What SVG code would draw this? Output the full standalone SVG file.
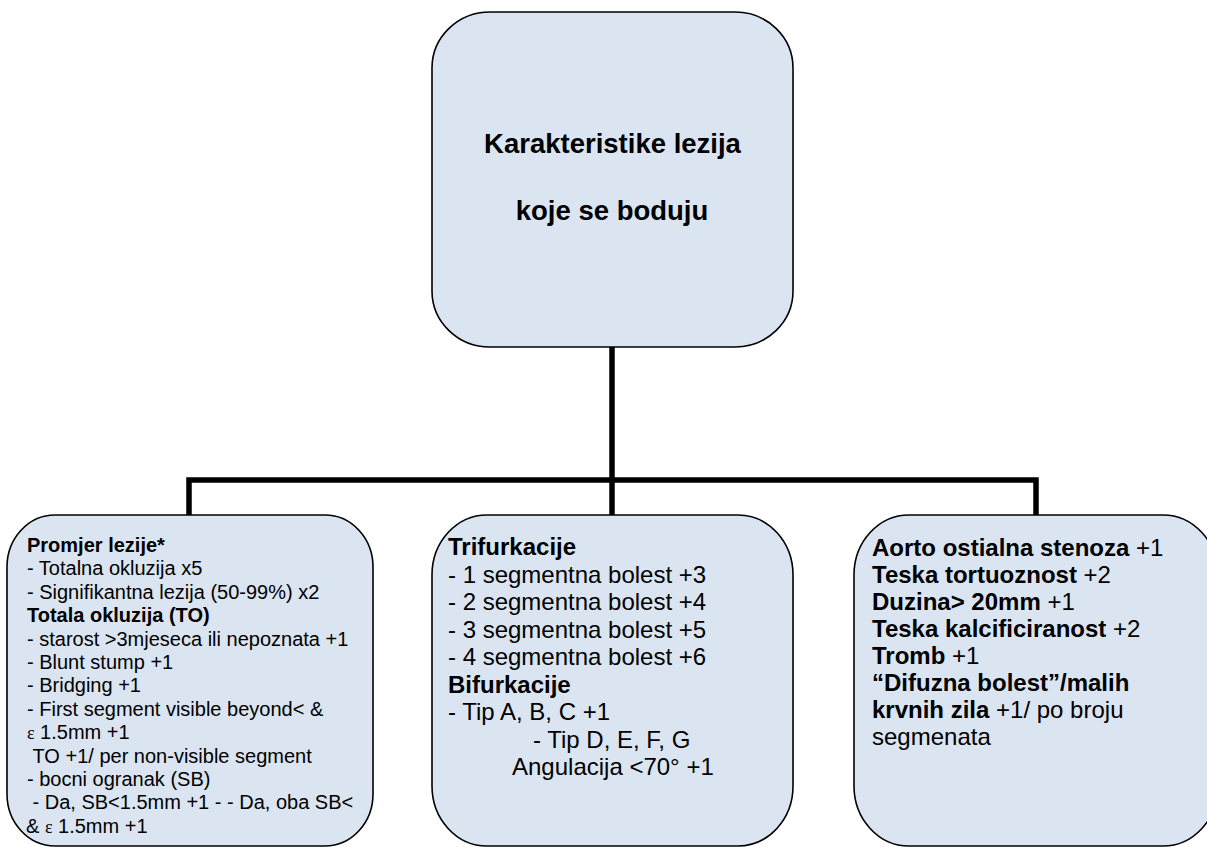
<svg xmlns="http://www.w3.org/2000/svg" width="1207" height="847" viewBox="0 0 1207 847">
<style>
.box{fill:#dbe5f1;stroke:#000;stroke-width:1.6}
.conn{fill:none;stroke:#000;stroke-width:5.5;stroke-linejoin:miter;stroke-linecap:butt}
text{font-family:"Liberation Sans",Arial,sans-serif;fill:#000}
.title{font-size:27.5px;font-weight:bold;text-anchor:middle}
.l{font-size:20px}
.m{font-size:24px}
.b{font-weight:bold}
.eps{font-family:"Liberation Serif","Times New Roman",serif;font-size:18px}
</style>
<rect width="1207" height="847" fill="#fff"/>
<g id="connectors">
<path class="conn" d="M612,347 V480"/>
<path class="conn" d="M189,515 V480 H1036 V515"/>
<path class="conn" d="M612,480 V515"/>
</g>
<g id="node-top">
<rect class="box" x="432" y="12" width="361" height="335" rx="58" ry="56"/>
<text class="title" x="612.5" y="153">Karakteristike lezija</text>
<text class="title" x="612" y="220">koje se boduju</text>
</g>
<g id="node-left">
<rect class="box" x="7" y="515" width="366" height="331" rx="48" ry="52"/>
<text class="l" x="27" y="552"><tspan class="b">Promjer lezije*</tspan></text>
<text class="l" x="27" y="575.4">- Totalna okluzija x5</text>
<text class="l" x="27" y="598.8">- Signifikantna lezija (50-99%) x2</text>
<text class="l" x="27" y="622.2"><tspan class="b">Totala okluzija (TO)</tspan></text>
<text class="l" x="27" y="645.6">- starost &gt;3mjeseca ili nepoznata +1</text>
<text class="l" x="27" y="669">- Blunt stump +1</text>
<text class="l" x="27" y="692.4">- Bridging +1</text>
<text class="l" x="27" y="715.8">- First segment visible beyond&lt; &amp;</text>
<text class="l" x="27" y="739.2"><tspan class="eps">ε</tspan> 1.5mm +1</text>
<text class="l" x="32.5" y="762.6">TO +1/ per non-visible segment</text>
<text class="l" x="27" y="786">- bocni ogranak (SB)</text>
<text class="l" x="32.5" y="809.4">- Da, SB&lt;1.5mm +1 - - Da, oba SB&lt;</text>
<text class="l" x="26" y="832.8">&amp; <tspan class="eps">ε</tspan> 1.5mm +1</text>
</g>
<g id="node-middle">
<rect class="box" x="432" y="515" width="361" height="331" rx="55" ry="60"/>
<text class="m" x="448" y="555"><tspan class="b">Trifurkacije</tspan></text>
<text class="m" x="448" y="582.5">- 1 segmentna bolest +3</text>
<text class="m" x="448" y="610">- 2 segmentna bolest +4</text>
<text class="m" x="448" y="637.5">- 3 segmentna bolest +5</text>
<text class="m" x="448" y="665">- 4 segmentna bolest +6</text>
<text class="m" x="448" y="692.5"><tspan class="b">Bifurkacije</tspan></text>
<text class="m" x="448" y="720">- Tip A, B, C +1</text>
<text class="m" x="533" y="747.5">- Tip D, E, F, G</text>
<text class="m" x="512" y="775">Angulacija &lt;70° +1</text>
</g>
<g id="node-right">
<rect class="box" x="854" y="515" width="364" height="331" rx="55" ry="60"/>
<text class="m" x="872" y="556"><tspan class="b">Aorto ostialna stenoza</tspan> +1</text>
<text class="m" x="872" y="583"><tspan class="b">Teska tortuoznost</tspan> +2</text>
<text class="m" x="872" y="610"><tspan class="b">Duzina&gt; 20mm</tspan> +1</text>
<text class="m" x="872" y="637"><tspan class="b">Teska kalcificiranost</tspan> +2</text>
<text class="m" x="872" y="664"><tspan class="b">Tromb</tspan> +1</text>
<text class="m" x="872" y="691"><tspan class="b">“Difuzna bolest”/malih</tspan></text>
<text class="m" x="872" y="718"><tspan class="b">krvnih zila</tspan> +1/ po broju</text>
<text class="m" x="872" y="745">segmenata</text>
</g>
</svg>
